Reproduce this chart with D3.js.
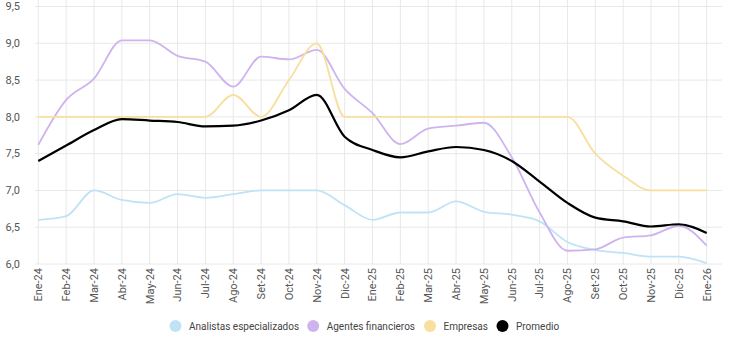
<!DOCTYPE html>
<html><head><meta charset="utf-8">
<script src="https://cdn.jsdelivr.net/npm/d3@7"></script>
<style>body{margin:0;background:#fff;font-family:Roboto,"Noto Sans",sans-serif}</style>
</head><body><svg id="c" width="730" height="343"></svg>
<script>
const months = ["Ene-24","Feb-24","Mar-24","Abr-24","May-24","Jun-24","Jul-24","Ago-24","Set-24","Oct-24","Nov-24","Dic-24",
"Ene-25","Feb-25","Mar-25","Abr-25","May-25","Jun-25","Jul-25","Ago-25","Set-25","Oct-25","Nov-25","Dic-25","Ene-26"];
const analistas = [6.60,6.65,7.00,6.87,6.83,6.95,6.90,6.95,7.00,7.00,7.00,6.80,6.60,6.70,6.70,6.85,6.71,6.67,6.58,6.30,6.19,6.15,6.10,6.10,6.01];
const agentes = [7.62,8.23,8.52,9.04,9.04,8.83,8.75,8.41,8.82,8.78,8.91,8.38,8.05,7.63,7.84,7.88,7.92,7.45,6.70,6.18,6.20,6.36,6.39,6.52,6.25];
const empresas = [8.0,8.0,8.0,8.0,8.0,8.0,8.0,8.3,8.0,8.5,9.0,8.0,8.0,8.0,8.0,8.0,8.0,8.0,8.0,8.0,7.5,7.2,7.0,7.0,7.0];
const promedio = [7.40,7.61,7.82,7.97,7.95,7.93,7.87,7.88,7.95,8.09,8.30,7.73,7.55,7.45,7.53,7.59,7.55,7.40,7.12,6.83,6.63,6.58,6.51,6.54,6.42];
const yTicks = [6.0,6.5,7.0,7.5,8.0,8.5,9.0,9.5];
const seriesNames = ["Analistas especializados","Agentes financieros","Empresas","Promedio"];
const seriesColors = ["#bfe3f5","#cfb3ef","#f8df9e","#000000"];
const seriesData = [analistas, agentes, empresas, promedio];

const svg = d3.select("#c");
const x = d3.scalePoint().domain(months).range([38.3, 706.7]);
const y = d3.scaleLinear().domain([6.0, 9.5]).range([264, 6.5]);
const fmt = v => d3.format(".1f")(v).replace(".", ",");

// grid
svg.append("g").selectAll("line").data(months).join("line")
  .attr("x1", d => x(d)).attr("x2", d => x(d)).attr("y1", 0).attr("y2", 264)
  .attr("stroke", "#e8e8e8").attr("stroke-width", 1);
svg.append("g").selectAll("line").data(yTicks).join("line")
  .attr("x1", 35).attr("x2", 722).attr("y1", d => y(d)).attr("y2", d => y(d))
  .attr("stroke", "#e8e8e8").attr("stroke-width", 1);

// y labels
svg.append("g").selectAll("text").data(yTicks).join("text")
  .attr("x", 20).attr("y", d => y(d)).attr("dy", "0.35em").attr("text-anchor", "end")
  .attr("font-size", 11).attr("fill", "#555").text(fmt);

// x labels
svg.append("g").selectAll("text").data(months).join("text")
  .attr("transform", d => `translate(${x(d)},268) rotate(-90)`)
  .attr("dy", "0.35em").attr("text-anchor", "end")
  .attr("font-size", 11).attr("fill", "#555").text(d => d);

// lines
const line = d3.line().x((d, i) => x(months[i])).y(d => y(d)).curve(d3.curveMonotoneX);
seriesData.forEach((s, k) => {
  svg.append("path").datum(s).attr("d", line).attr("fill", "none")
    .attr("stroke", seriesColors[k]).attr("stroke-width", k === 3 ? 2.2 : 1.8)
    .attr("stroke-linejoin", "round");
});

// legend
const legText = [189, 326.7, 443.5, 516];
const lg = svg.append("g");
seriesNames.forEach((n, k) => {
  lg.append("circle").attr("cx", legText[k] - 13.5).attr("cy", 326).attr("r", 6).attr("fill", seriesColors[k]);
  lg.append("text").attr("x", legText[k]).attr("y", 326).attr("dy", "0.35em")
    .attr("font-size", 10).attr("fill", "#444").text(n);
});
</script></body></html>
